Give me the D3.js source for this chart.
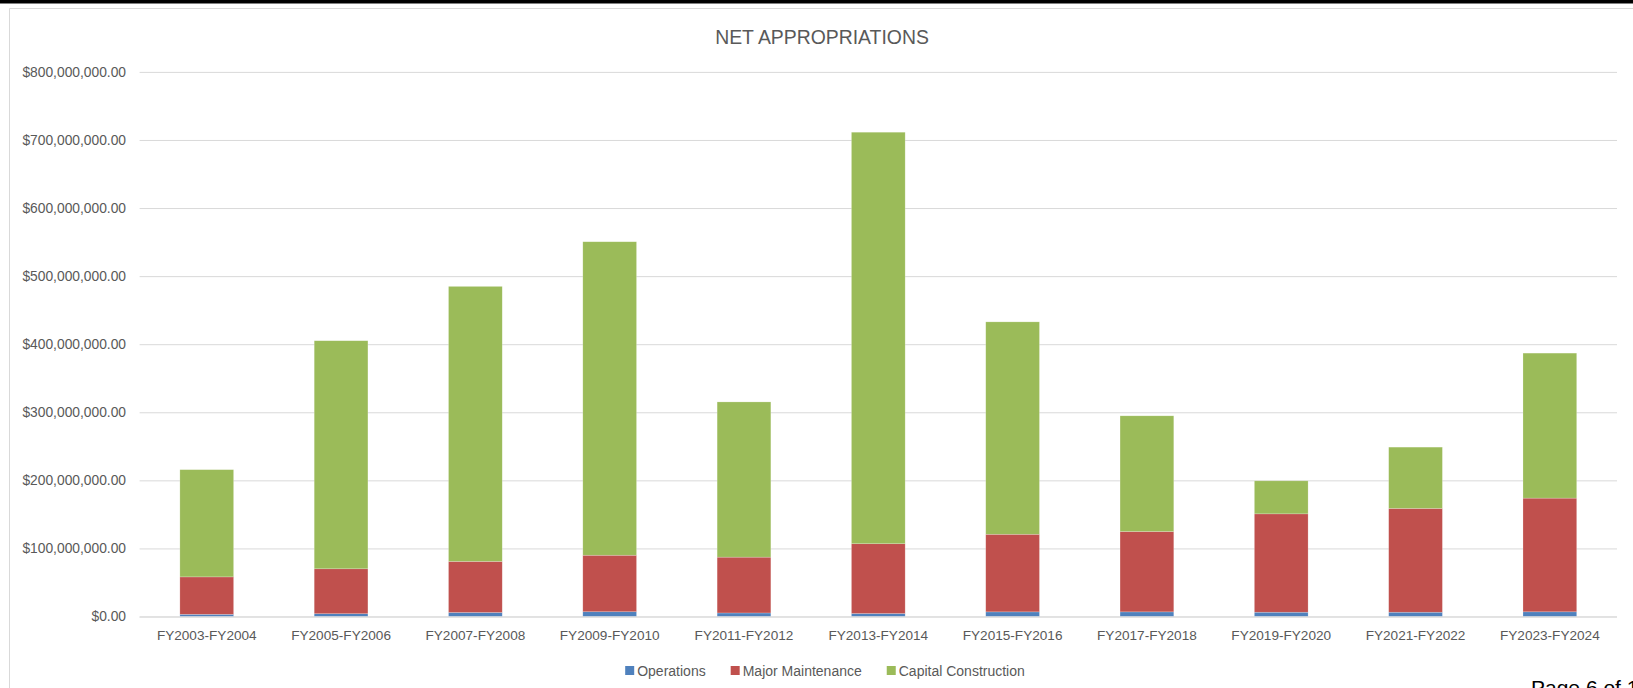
<!DOCTYPE html>
<html>
<head>
<meta charset="utf-8">
<script src="https://cdn.jsdelivr.net/npm/d3@7/dist/d3.min.js"></script>
<style>
  html, body { margin: 0; padding: 0; background: #fff; overflow: hidden; }
  text { font-family: "Liberation Sans", Arial, sans-serif; }
</style>
</head>
<body>
<div id="chart"></div>
<script>
// data (dollars)
var periods = ["FY2003-FY2004", "FY2005-FY2006", "FY2007-FY2008", "FY2009-FY2010", "FY2011-FY2012",
               "FY2013-FY2014", "FY2015-FY2016", "FY2017-FY2018", "FY2019-FY2020", "FY2021-FY2022", "FY2023-FY2024"];
var operations = [3.2e6, 4.1e6, 5.9e6, 7.0e6, 5.2e6, 4.4e6, 6.8e6, 6.8e6, 6.3e6, 6.3e6, 6.9e6];
var majorMaintenance = [55e6, 66e6, 75e6, 83e6, 82e6, 102.5e6, 114e6, 118e6, 144.5e6, 152.5e6, 167e6];
var capitalConstruction = [157.5e6, 335e6, 404e6, 460.5e6, 228e6, 604.5e6, 312e6, 170e6, 48.5e6, 90e6, 213e6];
var seriesNames = ["Operations", "Major Maintenance", "Capital Construction"];
var yTicks = [0, 1e8, 2e8, 3e8, 4e8, 5e8, 6e8, 7e8, 8e8];

var W = 1633, H = 688;
var colors = ["#4F81BD", "#C0504D", "#9BBB59"];
var textCol = "#595959", gridCol = "#d9d9d9";

var svg = d3.select("#chart")
  .append("svg")
    .attr("width", W)
    .attr("height", H);

// page frame: black strip on top, grey chart border
svg.append("rect").attr("x", 0).attr("y", 0).attr("width", W).attr("height", 3.5).attr("fill", "#000");
svg.append("path")
  .attr("d", "M9.5," + H + "V8.5H" + W)
  .attr("fill", "none")
  .attr("stroke", gridCol);

var plot = { left: 139.6, right: 1617, top: 71.9, bottom: 616.5 };

var x = d3.scaleBand()
  .domain(periods)
  .range([plot.left, plot.right])
  .paddingInner(0.6)
  .paddingOuter(0.3);

var y = d3.scaleLinear()
  .domain([0, 8e8])
  .range([plot.bottom, plot.top]);

// title
svg.append("text")
  .attr("x", 822)
  .attr("y", 43.5)
  .attr("text-anchor", "middle")
  .attr("fill", textCol)
  .style("font-size", "19.4px")
  .text("NET APPROPRIATIONS");

// gridlines + y labels
var fmt = d3.format(",.2f");
var yAxis = svg.append("g")
  .attr("transform", "translate(" + plot.left + ",0)")
  .call(d3.axisLeft(y)
    .tickValues(yTicks)
    .tickSize(-(plot.right - plot.left))
    .tickPadding(13.6)
    .tickFormat(function(d) { return "$" + fmt(d); }));
yAxis.select(".domain").remove();
yAxis.selectAll(".tick line").attr("stroke", gridCol);
yAxis.selectAll(".tick text")
  .attr("fill", textCol)
  .style("font-size", "13.8px");

// stacked bars
var rows = periods.map(function(p, i) {
  return { period: p, s0: operations[i], s1: majorMaintenance[i], s2: capitalConstruction[i] };
});
var stack = d3.stack().keys(["s0", "s1", "s2"])(rows);

svg.append("g")
  .selectAll("g")
  .data(stack)
  .enter().append("g")
    .attr("fill", function(d, i) { return colors[i]; })
  .selectAll("rect")
  .data(function(d) { return d; })
  .enter().append("rect")
    .attr("x", function(d) { return x(d.data.period); })
    .attr("y", function(d) { return y(d[1]); })
    .attr("width", x.bandwidth())
    .attr("height", function(d) { return y(d[0]) - y(d[1]); })
    .attr("stroke", "#fff")
    .attr("stroke-opacity", 0.35)
    .attr("stroke-width", 0.6);

// x axis
var xAxis = svg.append("g")
  .attr("transform", "translate(0," + plot.bottom + ")")
  .call(d3.axisBottom(x).tickSize(0).tickPadding(14));
xAxis.select(".domain").attr("stroke", gridCol).attr("d", "M" + plot.left + ",0.5H" + plot.right);
xAxis.selectAll(".tick text")
  .attr("fill", textCol)
  .style("font-size", "13.6px");

// legend
var legend = svg.append("g");
var lx = 0;
seriesNames.forEach(function(name, i) {
  var g = legend.append("g").attr("transform", "translate(" + lx + ",0)");
  g.append("rect")
    .attr("x", 0).attr("y", 666)
    .attr("width", 9).attr("height", 9)
    .attr("fill", colors[i]);
  var t = g.append("text")
    .attr("x", 12).attr("y", 675.5)
    .attr("fill", textCol)
    .style("font-size", "14px")
    .text(name);
  lx += 12 + t.node().getComputedTextLength() + 25;
});
var lw = lx - 25;
legend.attr("transform", "translate(" + (825 - lw / 2) + ",0)");

// page footer, cut by the window edge as in the source
svg.append("text")
  .attr("x", 1531)
  .attr("y", 695)
  .attr("fill", "#000")
  .style("font-size", "21px")
  .text("Page 6 of 12");
</script>
</body>
</html>
